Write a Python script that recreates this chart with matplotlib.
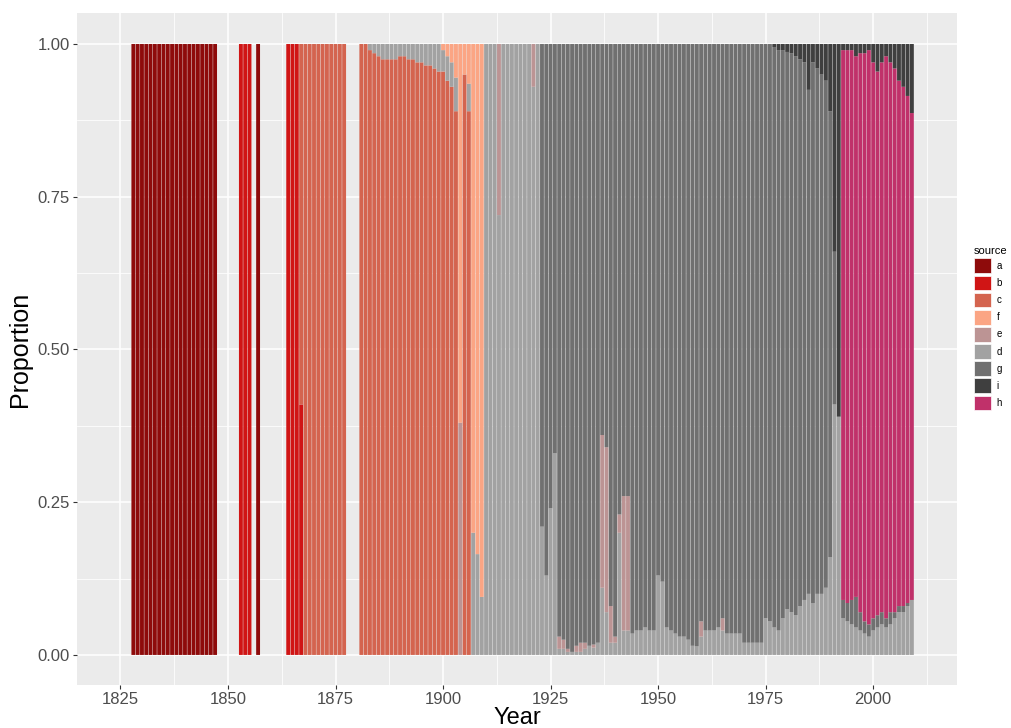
import matplotlib
matplotlib.use("Agg")
import matplotlib.pyplot as plt
from matplotlib.patches import Patch
from matplotlib.ticker import MultipleLocator
import pandas as pd

plt.rcParams['font.family'] = ['Liberation Sans', 'DejaVu Sans']

# order of the stack, bottom -> top, and order of the legend
stack_order = ['a', 'b', 'c', 'd', 'e', 'f', 'g', 'h', 'i']
legend_order = ['a', 'b', 'c', 'f', 'e', 'd', 'g', 'i', 'h']
colors = {
    'a': '#8E0B0B', 'b': '#D01515', 'c': '#D4644F', 'f': '#FBA584',
    'e': '#BC9494', 'd': '#A2A2A2', 'g': '#707070', 'i': '#3F3F3F',
    'h': '#C0316A',
}

# ---- data (proportion per year and source) ----
a_years = list(range(1828, 1848)) + [1857]
a_vals = [1.0] * 21

b_years = [1853, 1854, 1855, 1864, 1865, 1866, 1867]
b_vals = [1.0, 1.0, 1.0, 1.0, 1.0, 1.0, 0.41]

c_years = [1867] + list(range(1868, 1878)) + list(range(1881, 1907))
c_vals = [0.59] + [1.0] * 10 + [
    1.00, 1.00, 0.99, 0.985, 0.98, 0.975, 0.975, 0.975, 0.975, 0.98,
    0.98, 0.975, 0.975, 0.97, 0.97, 0.965, 0.965, 0.96, 0.955, 0.955,
    0.94, 0.93, 0.89, 0.0, 0.95, 0.89]

d_years = list(range(1881, 2010))
d_vals = [
    # 1881-1906
    0, 0, 0.01, 0.015, 0.02, 0.025, 0.025, 0.025, 0.025, 0.02,
    0.02, 0.025, 0.025, 0.03, 0.03, 0.035, 0.035, 0.04, 0.045, 0.035,
    0.04, 0.04, 0.055, 0, 0, 0.045,
    # 1907-1922
    0.20, 0.165, 0.095, 1, 1, 1, 0.72, 1, 1, 1, 1, 1, 1, 1, 0.93, 1,
    # 1923-1992
    0.21, 0.13, 0.24, 0.33, 0.01, 0.01, 0.005, 0.005, 0.005, 0.005,
    0.01, 0.015, 0.012, 0.02, 0.11, 0.07, 0.02, 0.02, 0.20, 0.04,
    0.04, 0.035, 0.04, 0.04, 0.045, 0.04, 0.04, 0.13, 0.12, 0.045,
    0.04, 0.035, 0.03, 0.03, 0.025, 0.015, 0.014, 0.03, 0.04, 0.04,
    0.04, 0.045, 0.04, 0.035, 0.035, 0.035, 0.035, 0.02, 0.02, 0.02,
    0.02, 0.02, 0.06, 0.055, 0.045, 0.04, 0.06, 0.075, 0.07, 0.065,
    0.08, 0.09, 0.10, 0.085, 0.10, 0.10, 0.11, 0.16, 0.41, 0.39,
    # 1993-2009
    0.06, 0.055, 0.05, 0.045, 0.04, 0.035, 0.03, 0.04, 0.045, 0.05,
    0.045, 0.05, 0.06, 0.07, 0.07, 0.08, 0.09]

e_years = [1904, 1913, 1921, 1927, 1928, 1929, 1931, 1932, 1933, 1935,
           1937, 1938, 1939, 1940, 1941, 1942, 1943, 1960, 1965]
e_vals = [0.38, 0.28, 0.07, 0.02, 0.015, 0.005, 0.01, 0.015, 0.01, 0.005,
          0.25, 0.27, 0.06, 0.01, 0.03, 0.22, 0.22, 0.025, 0.02]

f_years = list(range(1900, 1910))
f_vals = [0.01, 0.02, 0.03, 0.055, 0.62, 0.05, 0.065, 0.80, 0.835, 0.905]

g_years = list(range(1923, 2010))
g_vals = [
    # 1923-1992
    0.79, 0.87, 0.76, 0.67, 0.97, 0.975, 0.99, 0.995, 0.985, 0.98,
    0.98, 0.985, 0.983, 0.98, 0.64, 0.66, 0.92, 0.97, 0.77, 0.74,
    0.74, 0.965, 0.96, 0.96, 0.955, 0.96, 0.96, 0.87, 0.88, 0.955,
    0.96, 0.965, 0.97, 0.97, 0.975, 0.985, 0.986, 0.945, 0.96, 0.96,
    0.96, 0.955, 0.94, 0.965, 0.965, 0.965, 0.965, 0.98, 0.98, 0.98,
    0.98, 0.98, 0.94, 0.945, 0.95, 0.95, 0.93, 0.912, 0.915, 0.915,
    0.895, 0.88, 0.825, 0.885, 0.86, 0.85, 0.83, 0.73, 0.25, 0.0,
    # 1993-2009
    0.03, 0.03, 0.04, 0.05, 0.03, 0.02, 0.02, 0.02, 0.02, 0.02,
    0.015, 0.02, 0.01, 0.01, 0.01, 0.005, 0.0]

h_years = list(range(1993, 2010))
h_vals = [0.90, 0.905, 0.90, 0.885, 0.915, 0.93, 0.94, 0.91, 0.89, 0.90,
          0.92, 0.90, 0.89, 0.86, 0.85, 0.83, 0.797]

i_years = list(range(1977, 2010))
i_vals = [
    # 1977-1992
    0.005, 0.01, 0.01, 0.013, 0.015, 0.02, 0.025, 0.03, 0.075, 0.03,
    0.04, 0.05, 0.06, 0.11, 0.34, 0.61,
    # 1993-2009
    0.01, 0.01, 0.01, 0.02, 0.015, 0.015, 0.01, 0.03, 0.045, 0.03,
    0.02, 0.03, 0.04, 0.06, 0.07, 0.085, 0.113]

series = {
    'a': (a_years, a_vals), 'b': (b_years, b_vals), 'c': (c_years, c_vals),
    'd': (d_years, d_vals), 'e': (e_years, e_vals), 'f': (f_years, f_vals),
    'g': (g_years, g_vals), 'h': (h_years, h_vals), 'i': (i_years, i_vals),
}

all_years = sorted(set(y for ys, _ in series.values() for y in ys))
df = pd.DataFrame(index=all_years)
for s, (ys, vs) in series.items():
    df[s] = pd.Series(vs, index=ys)
df = df.fillna(0.0)

# ---- figure ----
fig = plt.figure(figsize=(10.12, 7.28), dpi=100)
ax = fig.add_axes([0.0761, 0.0584, 0.8696, 0.9231])
ax.set_facecolor('#EBEBEB')

bottom = pd.Series(0.0, index=df.index)
for s in stack_order:
    bars = ax.bar(df.index, df[s], bottom=bottom, width=0.9, color=colors[s],
                  linewidth=0, zorder=3)
    for b in bars:
        b.set_snap(False)
    bottom = bottom + df[s]

ax.set_xlim(1814.9, 2019.5)
ax.set_ylim(-0.05, 1.05)
ax.xaxis.set_major_locator(MultipleLocator(25))
ax.xaxis.set_minor_locator(MultipleLocator(12.5))
ax.yaxis.set_major_locator(MultipleLocator(0.25))
ax.yaxis.set_minor_locator(MultipleLocator(0.125))
ax.yaxis.set_major_formatter(lambda v, p: f'{v:.2f}')

ax.grid(which='major', color='white', linewidth=1.1, zorder=0)
ax.grid(which='minor', color='white', linewidth=0.55, zorder=0)
ax.set_axisbelow(True)
for sp in ax.spines.values():
    sp.set_visible(False)
ax.tick_params(which='major', length=3, width=0.8, color='#333333',
               labelcolor='#4D4D4D', labelsize=12, pad=2)
ax.tick_params(which='minor', length=0)

ax.set_xlabel('Year', fontsize=17, labelpad=0)
ax.set_ylabel('Proportion', fontsize=18, labelpad=4)

handles = [Patch(facecolor=colors[s], edgecolor='white', linewidth=0.5, label=s)
           for s in legend_order]
leg = fig.legend(handles=handles, title='source', loc='upper left',
                 bbox_to_anchor=(0.962, 0.662), frameon=False, fontsize=7,
                 title_fontsize=8, handlelength=1.75, handleheight=1.95,
                 labelspacing=0.25, handletextpad=0.6, borderpad=0,
                 borderaxespad=0)
leg._legend_box.align = 'left'

fig.savefig('out.png', dpi=100)
